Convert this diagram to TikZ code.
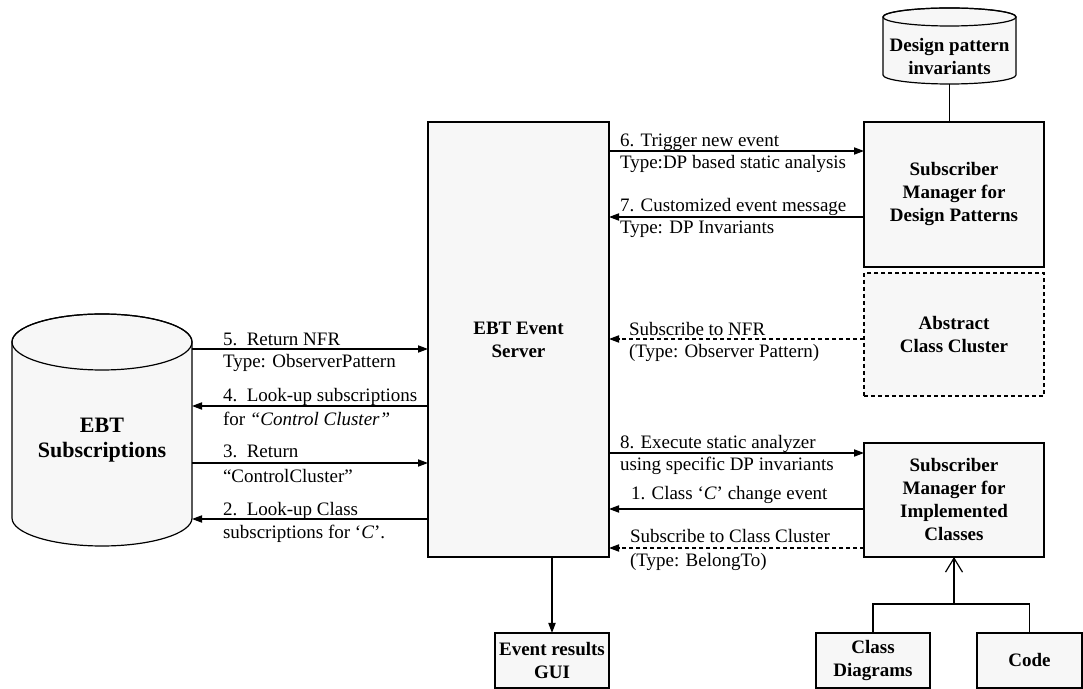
\documentclass[tikz,border=0pt]{standalone}
\usepackage{fontspec}
\setmainfont{Liberation Serif}
\usetikzlibrary{arrows.meta}
\definecolor{boxfill}{HTML}{F7F7F7}
\begin{document}
\begin{tikzpicture}[x=0.5pt,y=-0.5pt,
  every node/.style={inner sep=0pt, outer sep=0pt},
  lbl/.style={font=\fontsize{9.5}{11}\selectfont, anchor=base west},
  boxlabel/.style={font=\fontsize{9.5}{11.5}\selectfont\bfseries, align=center},
  block/.style={draw, fill=boxfill, line width=0.6pt, boxlabel},
  link/.style={line width=0.6pt},
  arr/.style={link, -{Triangle[length=5pt,width=3.6pt]}},
  dasharr/.style={arr, dash pattern=on 2pt off 1.5pt},
  barb/.style={link, -{Straight Barb[length=7pt,width=8.5pt]}},
]
\useasboundingbox (0,0) rectangle (1083,689);

% ---- boxes ----
\node[block, minimum width=90.5pt, minimum height=217.5pt] (srv) at (518.5,339.5) {EBT Event\\Server};
\node[block, minimum width=90pt, minimum height=72.5pt] (dpm) at (954,194.5) {Subscriber\\Manager for\\Design Patterns};
\node[block, dash pattern=on 2pt off 1.5pt, minimum width=90pt, minimum height=61.5pt] (abs) at (954,334.5) {Abstract\\Class Cluster};
\node[block, minimum width=90pt, minimum height=57pt] (impl) at (954,500) {Subscriber\\Manager for\\Implemented\\Classes};
\node[block, minimum width=57pt, minimum height=27.5pt] (gui) at (552,660.5) {Event results\\GUI};
\node[block, minimum width=57pt, minimum height=27.5pt] (cd) at (873,660.5) {Class\\Diagrams};
\node[block, minimum width=52.5pt, minimum height=27.5pt] (code) at (1029.5,660.5) {Code};

% ---- subscriptions store (cylinder) ----
\node[minimum width=90pt, minimum height=88pt] (sub) at (102,430) {};
\draw[link, fill=boxfill] (sub.north west) -- (sub.south west)
  arc[start angle=180, end angle=0, x radius=90, y radius=28]
  -- (sub.north east)
  arc[start angle=0, end angle=-180, x radius=90, y radius=28] -- cycle;
\draw[link] (sub.north) ellipse [x radius=90, y radius=28];
\node[boxlabel, font=\fontsize{11}{12.5}\selectfont\bfseries] (subtxt) at (102,440) {EBT\\Subscriptions};

% ---- design pattern invariants store (cylinder) ----
\node[minimum width=66.5pt, minimum height=29pt] (dpi) at (949.5,46) {};
\draw[link, fill=boxfill] (dpi.north west) -- (dpi.south west)
  arc[start angle=180, end angle=0, x radius=66.5, y radius=9]
  -- (dpi.north east)
  arc[start angle=0, end angle=-180, x radius=66.5, y radius=9] -- cycle;
\draw[link] (dpi.north) ellipse [x radius=66.5, y radius=9];
\node[boxlabel] (dpitxt) at (949.5,57) {Design pattern\\invariants};
\draw[link] ([yshift=-4.5pt]dpi.south) -- (dpm.north -| dpi.south);

% ---- messages between the store and the server ----
\draw[arr] (sub.east |- 0,349) -- (srv.west |- 0,349);
\draw[arr] (srv.west |- 0,406) -- (sub.east |- 0,406);
\draw[arr] (sub.east |- 0,463) -- (srv.west |- 0,463);
\draw[arr] (srv.west |- 0,519) -- (sub.east |- 0,519);
\node[lbl] (t5a) at (223,346) {5.\ \ Return NFR};
\node[lbl] (t5b) at (223,368) {Type: ObserverPattern};
\node[lbl] (t4a) at (223,402) {4.\ \ Look-up subscriptions};
\node[lbl] (t4b) at (223,426) {for \textit{“Control Cluster”}};
\node[lbl] (t3a) at (223,458) {3.\ \ Return};
\node[lbl] (t3b) at (223,483) {“ControlCluster”};
\node[lbl] (t2a) at (223,516) {2.\ \ Look-up Class};
\node[lbl] (t2b) at (223,539) {subscriptions for ‘\textit{C}’.};

% ---- messages between the server and the subscribers ----
\draw[arr] (srv.east |- 0,151) -- (dpm.west |- 0,151);
\draw[arr] (dpm.west |- 0,217) -- (srv.east |- 0,217);
\draw[dasharr] (abs.west |- 0,339) -- (srv.east |- 0,339);
\draw[arr] (srv.east |- 0,453) -- (impl.west |- 0,453);
\draw[arr] (impl.west |- 0,509) -- (srv.east |- 0,509);
\draw[dasharr] (impl.west |- 0,548) -- (srv.east |- 0,548);
\node[lbl] (t6a) at (620,147) {6. Trigger new event};
\node[lbl] (t6b) at (620,169) {Type:DP based static analysis};
\node[lbl] (t7a) at (620,212) {7. Customized event message};
\node[lbl] (t7b) at (620,234) {Type: DP Invariants};
\node[lbl] (tna) at (629,336) {Subscribe to NFR};
\node[lbl] (tnb) at (629,358) {(Type: Observer Pattern)};
\node[lbl] (t8a) at (620,449) {8. Execute static analyzer};
\node[lbl] (t8b) at (620,471) {using specific DP invariants};
\node[lbl] (t1a) at (631,500) {1. Class ‘\textit{C}’ change event};
\node[lbl] (tca) at (630,543) {Subscribe to Class Cluster};
\node[lbl] (tcb) at (630,567) {(Type: BelongTo)};

% ---- results and sources ----
\draw[arr] (gui.north |- srv.south) -- (gui.north);
\coordinate (fork) at (954,604);
\draw[barb] (fork) -- (impl.south);
\draw[link] (cd.north) |- (fork) -| (code.north);
\end{tikzpicture}
\end{document}
